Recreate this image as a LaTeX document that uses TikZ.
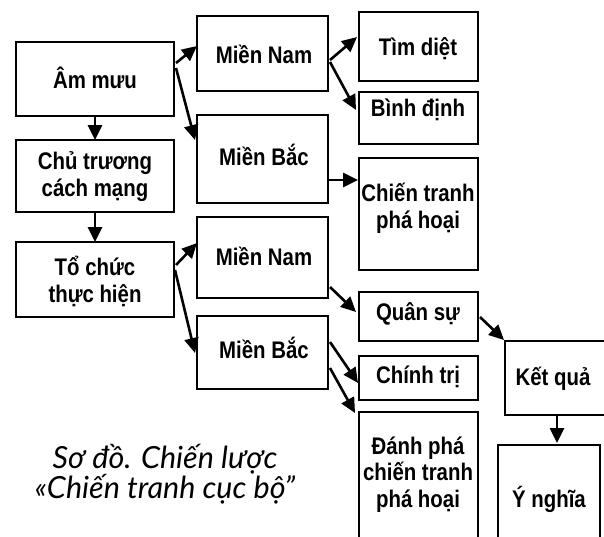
\documentclass[tikz,border=0pt]{standalone}
\usepackage{fontspec}
\setmainfont{Liberation Sans}
\newfontfamily\boxfont[FakeStretch=0.85]{Liberation Sans}
\newfontfamily\capfont{Lato}
\usetikzlibrary{arrows.meta,calc}

% rectangle node given by its left, top, right and bottom edges
\newcommand\diagbox[5]{%
  \node[box, minimum width={(#4-#2)*1pt}, minimum height={(#5-#3)*1pt}]
    (#1) at ({(#2+#4)/2},{(#3+#5)/2}) {};}

\begin{document}
\begin{tikzpicture}[x=1pt, y=-1pt,
  box/.style={draw, line width=2.3pt, inner sep=0pt, outer sep=0pt},
  txt/.style={font=\boxfont\bfseries\fontsize{24}{26.5}\selectfont,
              align=center, anchor=base, inner sep=0pt},
  captxt/.style={font=\capfont\itshape\fontsize{30.5}{30}\selectfont,
                 align=center, anchor=base, inner sep=0pt},
  arr/.style={line width=2.6pt, -{Triangle[length=15pt,width=14pt]}}]

\useasboundingbox (0,0) rectangle (604,536);
\clip (0,0) rectangle (604,536);

% left column
\diagbox{amuu}{16}{42}{174}{116}
\diagbox{chutruong}{16}{140}{174}{212}
\diagbox{tochuc}{16}{242}{174}{317}
% middle column
\diagbox{mn1}{197}{16}{328}{91}
\diagbox{mb1}{197}{115}{328}{203}
\diagbox{mn2}{197}{217}{328}{298}
\diagbox{mb2}{197}{316}{328}{389}
% right column
\diagbox{timdiet}{359}{12}{478}{81}
\diagbox{binhdinh}{359}{92}{478}{144}
\diagbox{ctph}{359}{158}{478}{270}
\diagbox{quansu}{359}{292}{478}{341}
\diagbox{chinhtri}{359}{356}{478}{400}
\diagbox{danhpha}{359}{412}{478}{560}
% results
\diagbox{ketqua}{505}{341}{625}{415}
\diagbox{ynghia}{498}{445}{600}{560}

% labels (base anchor = baseline of the last line)
\node[txt] (amuu-t) at (95,88) {Âm mưu};
\node[txt] (chutruong-t) at (95,196) {Chủ trương\\cách mạng};
\node[txt] (tochuc-t) at (95,302) {Tổ chức\\thực hiện};
\node[txt] (mn1-t) at (264,63) {Miền Nam};
\node[txt] (mb1-t) at (264,165) {Miền Bắc};
\node[txt] (mn2-t) at (264,265) {Miền Nam};
\node[txt] (mb2-t) at (264,358) {Miền Bắc};
\node[txt] (timdiet-t) at (418,55) {Tìm diệt};
\node[txt] (binhdinh-t) at (418,116) {Bình định};
\node[txt] (ctph-t) at (418,228) {Chiến tranh\\phá hoại};
\node[txt] (quansu-t) at (418,320) {Quân sự};
\node[txt] (chinhtri-t) at (418,383) {Chính trị};
\node[txt] (danhpha-t) at (418,507) {Đánh phá\\chiến tranh\\phá hoại};
\node[txt] (ketqua-t) at (553,385) {Kết quả};
\node[txt] (ynghia-t) at (549,507) {Ý nghĩa};

% caption
\node[captxt] (caption) at (165,498) {Sơ đồ. Chiến lược\\«Chiến tranh cục bộ”};

% connectors
\draw[arr] ($(amuu.north east)+(2,21)$) -- ($(mn1.north west)+(0,30)$);
\draw[arr] ($(amuu.north east)+(2,26)$) -- ($(mb1.north west)+(-2,25)$);
\draw[arr] (amuu.south) -- (chutruong.north);
\draw[arr] (chutruong.south) -- (tochuc.north);
\draw[arr] ($(tochuc.north east)+(2,23)$) -- ($(mn2.north west)+(0,26)$);
\draw[arr] ($(tochuc.north east)+(1,28)$) -- ($(mb2.north west)+(-2,37)$);
\draw[arr] ($(mn1.north east)+(2,44)$) -- ($(timdiet.north west)+(-2,25)$);
\draw[arr] ($(mn1.north east)+(2,46)$) -- ($(binhdinh.north west)+(-3,18)$);
\draw[arr] ($(mb1.north east)+(0,65)$) -- ($(ctph.north west)+(-1,22)$);
\draw[arr] ($(mn2.north east)+(2,70)$) -- ($(quansu.north west)+(-3,20)$);
\draw[arr] ($(mb2.north east)+(2,26)$) -- ($(chinhtri.north west)+(-1,27)$);
\draw[arr] ($(mb2.north east)+(2,52)$) -- ($(danhpha.north west)+(-4,1)$);
\draw[arr] ($(quansu.north east)+(2,25)$) -- ($(ketqua.north west)+(-1,-1)$);
\draw[arr] ($(ketqua.south west)+(52,0)$) -- ($(ynghia.north west)+(59,-2)$);
\end{tikzpicture}
\end{document}
